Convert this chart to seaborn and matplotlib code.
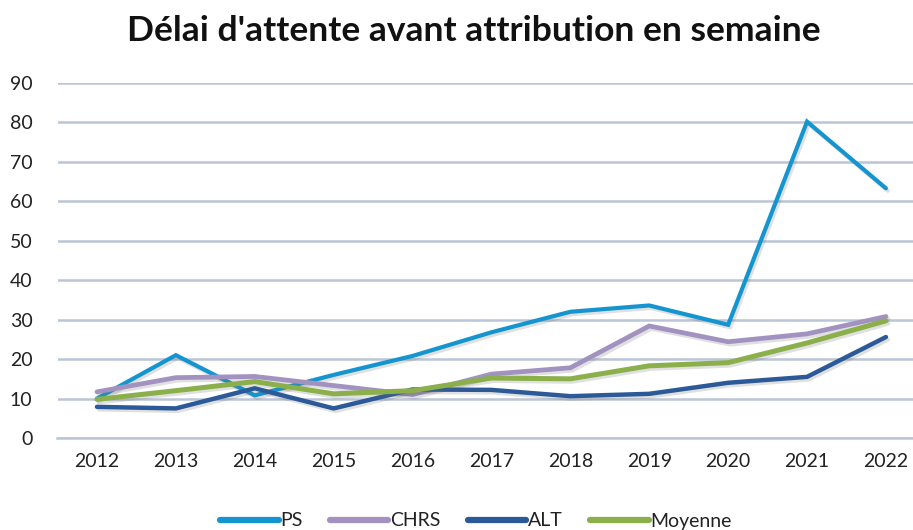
import numpy as np
import pandas as pd
import matplotlib
matplotlib.use("Agg")
import matplotlib.pyplot as plt
import matplotlib.patheffects as pe
from matplotlib.lines import Line2D
import seaborn as sns

# Waiting time before allocation (weeks), per housing type
years = [2012, 2013, 2014, 2015, 2016, 2017, 2018, 2019, 2020, 2021, 2022]
ps = [10.0, 21.0, 10.8, 16.0, 20.8, 26.8, 32.0, 33.6, 28.7, 80.2, 63.3]
chrs = [11.7, 15.3, 15.6, 13.3, 11.0, 16.2, 17.8, 28.4, 24.4, 26.4, 30.8]
alt = [7.9, 7.5, 12.6, 7.5, 12.3, 12.2, 10.6, 11.2, 14.0, 15.5, 25.6]
moyenne = [9.8, 12.0, 14.3, 11.2, 12.0, 15.2, 15.0, 18.3, 19.1, 24.1, 29.7]

series_names = ["PS", "CHRS", "ALT", "Moyenne"]
series_values = [ps, chrs, alt, moyenne]
colors = ["#1595d0", "#a192c0", "#2c5a98", "#8bb04b"]
widths = [3.0, 3.4, 3.2, 3.6]

y_ticks = [0, 10, 20, 30, 40, 50, 60, 70, 80, 90]
title = "Délai d'attente avant attribution en semaine"

df = pd.DataFrame({
    "annee": years * len(series_names),
    "valeur": sum(series_values, []),
    "serie": np.repeat(series_names, len(years)),
})

sns.set_style("white")
plt.rcParams["font.family"] = ["Lato", "DejaVu Sans"]

W, H = 913, 530
fig = plt.figure(figsize=(W / 100, H / 100), dpi=100)
left, right, top, bottom = 57.5, 925.4, 83, 438
ax = fig.add_axes([left / W, 1 - bottom / H, (right - left) / W, (bottom - top) / H])

grid_color = "#bac5d6"
shadow = [pe.SimpleLineShadow(offset=(1.4, -1.8), shadow_color="#666666", alpha=0.2),
          pe.Normal()]

for name, col, lw in zip(series_names, colors, widths):
    sns.lineplot(data=df[df["serie"] == name], x="annee", y="valeur", ax=ax,
                 color=col, linewidth=lw, solid_capstyle="round",
                 solid_joinstyle="miter", legend=False, zorder=3,
                 path_effects=shadow)

ax.set_xlim(years[0] - 0.5, years[-1] + 0.5)
ax.set_ylim(0, 90)
ax.set_yticks(y_ticks)
ax.set_xticks(years)
ax.set_xticklabels([str(y) for y in years])
ax.set_xticks([y + 0.5 for y in [years[0] - 1] + years], minor=True)

ax.grid(axis="y", color=grid_color, linewidth=1.8, zorder=0)
ax.grid(axis="x", visible=False)
for s in ["top", "right", "left"]:
    ax.spines[s].set_visible(False)
ax.spines["bottom"].set_color(grid_color)
ax.spines["bottom"].set_linewidth(1.8)
ax.spines["bottom"].set_zorder(1)

ax.tick_params(axis="y", length=0, pad=18, labelsize=14, labelcolor="#222222")
ax.tick_params(axis="x", which="major", length=0, pad=11, labelsize=14,
               labelcolor="#222222")
ax.tick_params(axis="x", which="minor", length=6, width=1.8, color=grid_color,
               direction="out")
ax.set_xlabel("")
ax.set_ylabel("")

fig.text(474 / W, 1 - 31 / H, title, ha="center", va="center",
         fontsize=25.5, fontweight="bold", color="#111111")

handles = [Line2D([0], [0], color=c, linewidth=4.5, solid_capstyle="round")
           for c in colors]
fig.legend(handles, series_names, loc="center", bbox_to_anchor=(476 / W, 1 - 521 / H),
           ncol=4, frameon=False, fontsize=14, handlelength=3.0,
           handletextpad=0.1, columnspacing=1.4, labelcolor="#222222")

fig.savefig("out.png", dpi=100, facecolor="white")
